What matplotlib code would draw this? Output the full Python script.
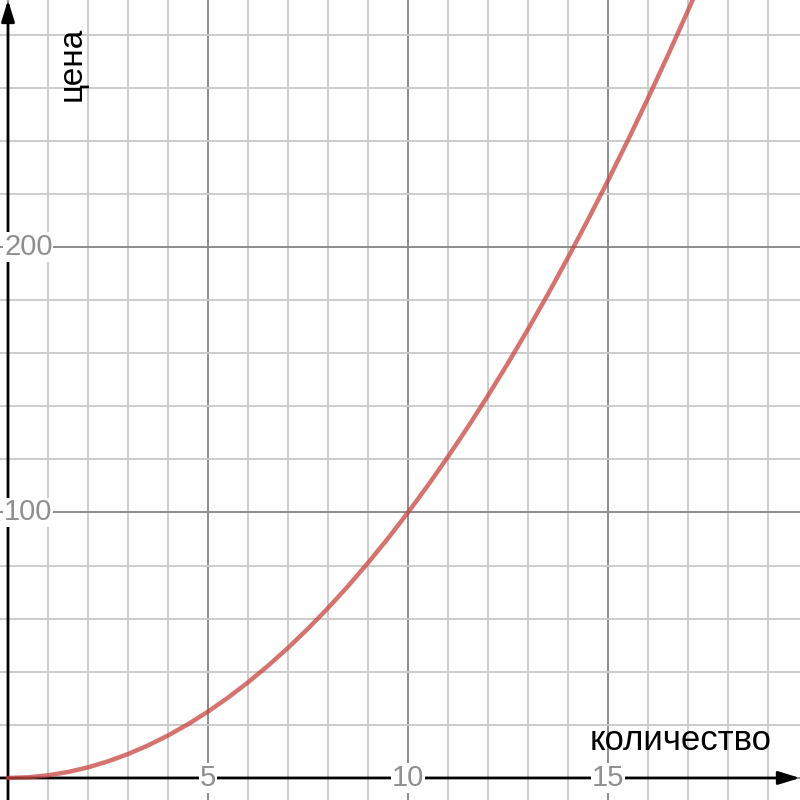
import matplotlib

matplotlib.use("Agg")
import matplotlib.pyplot as plt
from matplotlib.ticker import MultipleLocator

plt.rcParams["font.family"] = ["Liberation Sans", "DejaVu Sans"]

# values
qty = [0, 0.5, 1, 1.5, 2, 2.5, 3, 3.5, 4, 4.5, 5, 5.5, 6, 6.5, 7, 7.5, 8, 8.5,
       9, 9.5, 10, 10.5, 11, 11.5, 12, 12.5, 13, 13.5, 14, 14.5, 15, 15.5,
       16, 16.5, 17, 17.5, 18]
price = [0, 0.25, 1, 2.25, 4, 6.25, 9, 12.25, 16, 20.25, 25, 30.25, 36, 42.25,
         49, 56.25, 64, 72.25, 81, 90.25, 100, 110.25, 121, 132.25, 144, 156.25,
         169, 182.25, 196, 210.25, 225, 240.25, 256, 272.25, 289, 306.25, 324]
x_ticks = [5, 10, 15]
y_ticks = [100, 200]
x_label = "количество"
y_label = "цена"

XMIN, XMAX = -0.2, 19.8
YMIN, YMAX = -8.3, 293.0

fig = plt.figure(figsize=(8, 8), dpi=100)
ax = fig.add_axes([0, 0, 1, 1])
ax.set_xlim(XMIN, XMAX)
ax.set_ylim(YMIN, YMAX)
for s in ax.spines.values():
    s.set_visible(False)

# grid
ax.xaxis.set_minor_locator(MultipleLocator(1))
ax.yaxis.set_minor_locator(MultipleLocator(20))
ax.xaxis.set_major_locator(MultipleLocator(5))
ax.yaxis.set_major_locator(MultipleLocator(100))
ax.tick_params(which="both", length=0, labelbottom=False, labelleft=False)
ax.grid(True, which="minor", color="#cccccc", lw=1.4)
ax.grid(True, which="major", color="#8c8c8c", lw=1.4)
ax.set_axisbelow(True)

# axes with arrows
arrow = dict(arrowstyle="-|>,head_length=1.3,head_width=0.4",
             color="black", lw=2.0, shrinkA=0, shrinkB=0)
ax.annotate("", xy=(XMAX, 0), xytext=(XMIN, 0), arrowprops=arrow)
ax.annotate("", xy=(0, YMAX), xytext=(0, YMIN), arrowprops=arrow)

ax.plot(qty, price, color="#c74440", alpha=0.75, lw=3.2,
        solid_capstyle="round", zorder=5)

box = dict(facecolor="white", edgecolor="none", pad=0.5)
for t in x_ticks:
    ax.text(t, 0, str(t), ha="center", va="center", fontsize=21,
            color="#8f8f8f", bbox=box, zorder=4)
for t in y_ticks:
    ax.text(-0.1, t, str(t), ha="left", va="center", fontsize=21,
            color="#8f8f8f", bbox=box, zorder=4)

ax.text(19.1, 14, x_label, ha="right", va="center", fontsize=25, color="black")
ax.text(1.6, 269, y_label, ha="center", va="center", rotation=90,
        fontsize=24, color="black")

fig.savefig("out.png", dpi=100)
